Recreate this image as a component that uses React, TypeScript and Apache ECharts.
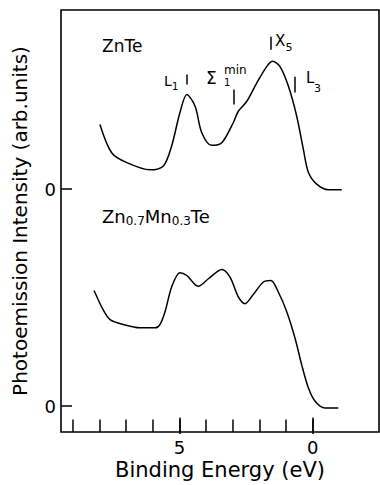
import React, { useEffect, useRef } from "react";
import * as echarts from "echarts";

// ZnTe spectrum (binding energy in eV, intensity in arb. units)
const znteEnergy = [7.98, 7.54, 6.97, 6.1, 5.6, 5.29, 4.98, 4.72, 4.41, 4.16, 3.79, 3.41, 2.98, 2.79, 2.47, 2.1, 1.72, 1.5, 1.23, 0.91, 0.6, 0.35, 0.16, -0.15, -0.58, -1.09];
const znteIntensity = [2.98, 1.68, 1.22, 0.89, 1.07, 1.99, 3.52, 4.36, 3.82, 2.6, 2.02, 2.14, 3.06, 3.59, 4.05, 4.89, 5.66, 5.89, 5.66, 4.74, 3.36, 1.83, 0.77, 0.23, -0.03, -0.03];

// Zn0.7Mn0.3Te spectrum
const alloyEnergy = [8.2, 7.85, 7.6, 7.1, 6.48, 5.91, 5.73, 5.54, 5.29, 4.98, 4.72, 4.29, 3.91, 3.41, 3.1, 2.79, 2.54, 2.23, 1.85, 1.57, 1.29, 0.97, 0.66, 0.41, 0.16, -0.09, -0.46, -0.96];
const alloyIntensity = [5.33, 4.42, 3.99, 3.76, 3.61, 3.61, 3.76, 4.34, 5.49, 6.15, 6.02, 5.52, 5.87, 6.3, 5.95, 5.03, 4.72, 5.14, 5.72, 5.79, 5.26, 4.34, 3.12, 1.89, 0.83, 0.22, -0.09, -0.09];

// vertical offset of the upper (ZnTe) curve
const upperOffset = 10;

// axis ticks
const minorTickValues = [9, 8, 7, 6, 5, 4, 3, 2, 1, 0];
const majorTickValues = [5, 0];
const baselineValues = [0, upperOffset];

// critical-point markers on the ZnTe curve: energy, bottom, top (arb. units above ZnTe baseline)
const markerNames = ["L1", "Sigma1min", "X5", "L3"];
const markerEnergy = [4.72, 2.95, 1.57, 0.66];
const markerLow = [4.82, 3.9, 6.42, 4.45];
const markerHigh = [5.28, 4.59, 7.02, 5.18];

const FONT = "DejaVu Sans";

export default function App() {
  const ref = useRef<HTMLDivElement>(null);
  useEffect(() => {
    if (!ref.current) return;
    const chart = echarts.init(ref.current, null, { renderer: "svg" });
    const xMin = -2.486;
    const xMax = 9.439;
    const yMin = -1.193;
    const yMax = 18.257;
    const gridRect = { left: 61, right: 1, top: 10, bottom: 51 };

    const upperData = znteEnergy.map((e, i) => [e, znteIntensity[i] + upperOffset]);
    const lowerData = alloyEnergy.map((e, i) => [e, alloyIntensity[i]]);
    const markLines = markerEnergy.map((e, i) => [
      { name: markerNames[i], coord: [e, markerLow[i] + upperOffset] },
      { coord: [e, markerHigh[i] + upperOffset] },
    ]);

    const txt = (x: number, y: number, text: string, size: number) => ({
      type: "text",
      x,
      y,
      silent: true,
      style: {
        text,
        fill: "#000",
        fontFamily: FONT,
        fontSize: size,
        align: "left",
        verticalAlign: "middle",
      },
    });

    chart.setOption({
      animation: false,
      backgroundColor: "#fff",
      grid: [
        { ...gridRect, show: true, borderColor: "#000", borderWidth: 1.6, backgroundColor: "transparent" },
        { ...gridRect, show: false },
      ],
      xAxis: [
        {
          type: "value",
          gridIndex: 0,
          inverse: true,
          min: xMin,
          max: xMax,
          axisLine: { show: false, onZero: false },
          splitLine: { show: false },
          axisTick: {
            show: true,
            inside: true,
            length: 12.6,
            customValues: minorTickValues,
            lineStyle: { color: "#000", width: 1.5 },
          },
          axisLabel: { show: false },
          name: "Binding Energy (eV)",
          nameLocation: "middle",
          nameGap: 27,
          nameTextStyle: { fontFamily: FONT, fontSize: 21, color: "#000" },
        },
        {
          type: "value",
          gridIndex: 1,
          inverse: true,
          min: xMin,
          max: xMax,
          axisLine: { show: false, onZero: false },
          splitLine: { show: false },
          axisTick: {
            show: true,
            inside: true,
            length: 16.6,
            customValues: majorTickValues,
            lineStyle: { color: "#000", width: 1.5 },
          },
          axisLabel: {
            show: true,
            customValues: majorTickValues,
            margin: 4,
            fontFamily: FONT,
            fontSize: 18,
            color: "#000",
            formatter: (v: number) => String(Math.round(v)),
          },
        },
      ],
      yAxis: [
        {
          type: "value",
          gridIndex: 0,
          min: yMin,
          max: yMax,
          axisLine: { show: false, onZero: false },
          splitLine: { show: false },
          axisTick: {
            show: true,
            inside: true,
            length: 11,
            customValues: baselineValues,
            lineStyle: { color: "#000", width: 1.5 },
          },
          axisLabel: {
            show: true,
            customValues: baselineValues,
            margin: 5,
            fontFamily: FONT,
            fontSize: 18,
            color: "#000",
            formatter: () => "0",
          },
          name: "Photoemission Intensity (arb.units)",
          nameLocation: "middle",
          nameGap: 31,
          nameTextStyle: { fontFamily: FONT, fontSize: 20, color: "#000" },
        },
        {
          type: "value",
          gridIndex: 1,
          min: yMin,
          max: yMax,
          show: false,
          axisLine: { onZero: false },
        },
      ],
      series: [
        {
          type: "line",
          name: "ZnTe",
          xAxisIndex: 0,
          yAxisIndex: 0,
          data: upperData,
          smooth: 0.3,
          symbol: "none",
          lineStyle: { color: "#000", width: 1.5 },
          markLine: {
            silent: true,
            symbol: ["none", "none"],
            label: { show: false },
            lineStyle: { color: "#000", width: 1.5, type: "solid" },
            data: markLines,
          },
        },
        {
          type: "line",
          name: "Zn0.7Mn0.3Te",
          xAxisIndex: 0,
          yAxisIndex: 0,
          data: lowerData,
          smooth: 0.3,
          symbol: "none",
          lineStyle: { color: "#000", width: 1.5 },
        },
      ],
      graphic: [
        txt(102, 46, "ZnTe", 17),
        {
          type: "text",
          x: 102,
          y: 216,
          silent: true,
          style: {
            text: "{m|Zn}{s|0.7}{m|Mn}{s|0.3}{m|Te}",
            fill: "#000",
            align: "left",
            verticalAlign: "middle",
            rich: {
              m: { fontFamily: FONT, fontSize: 18, lineHeight: 22, color: "#000" },
              s: { fontFamily: FONT, fontSize: 12, lineHeight: 12, verticalAlign: "bottom", color: "#000" },
            },
          },
        },
        txt(164, 81, "L", 14),
        txt(172, 86, "1", 10),
        txt(206, 78, "Σ", 17),
        txt(224, 82, "1", 10),
        txt(224, 70, "min", 12),
        txt(275, 41, "X", 15),
        txt(285.5, 47, "5", 11),
        txt(306, 78, "L", 15),
        txt(314, 88, "3", 11),
      ],
    });
    return () => chart.dispose();
  }, []);
  return (
    <div
      ref={ref}
      style={{ position: "fixed", left: 0, top: 0, width: 380, height: 485 }}
    />
  );
}
